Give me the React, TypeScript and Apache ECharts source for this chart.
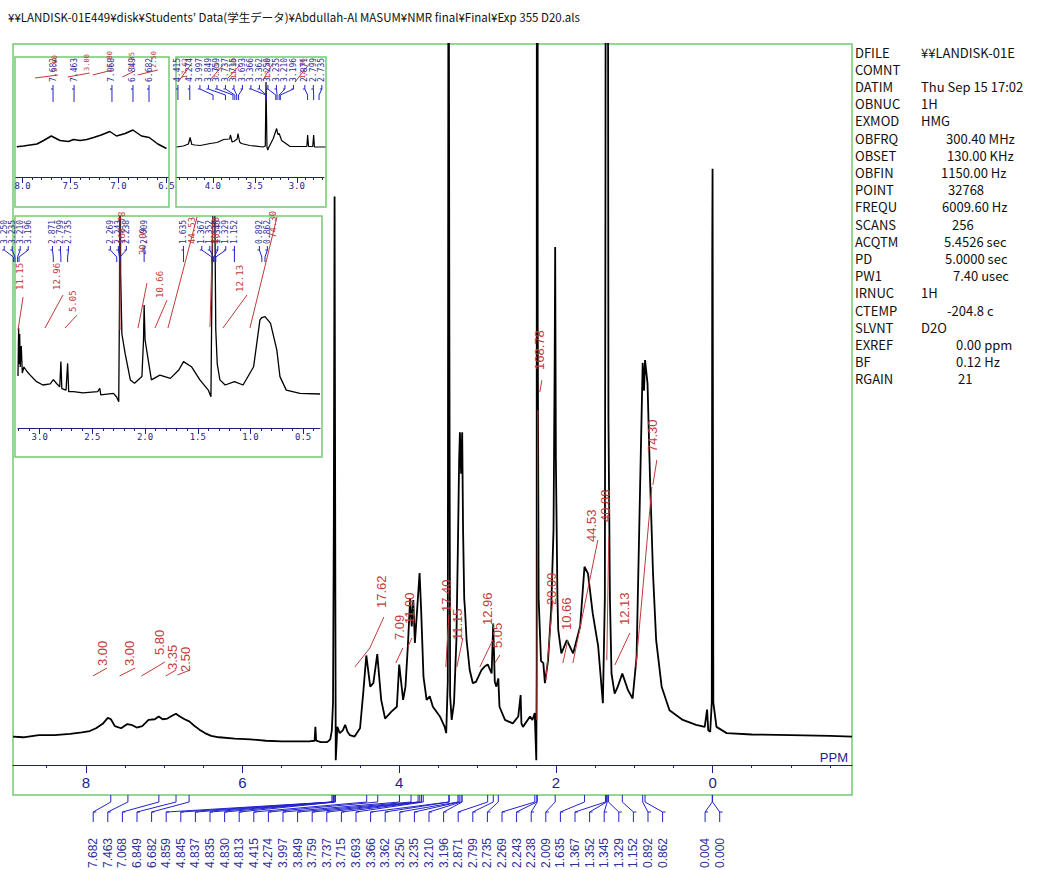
import React, { useEffect, useRef } from "react";
import * as echarts from "echarts";

const TITLE_TEXT = "¥¥LANDISK-01E449¥disk¥Students’ Data(学生データ)¥Abdullah-Al MASUM¥NMR final¥Final¥Exp 355 D20.als";

const paramKeys = ["DFILE", "COMNT", "DATIM", "OBNUC", "EXMOD", "OBFRQ", "OBSET", "OBFIN", "POINT", "FREQU", "SCANS", "ACQTM", "PD", "PW1", "IRNUC", "CTEMP", "SLVNT", "EXREF", "BF", "RGAIN"];
const paramValues = ["¥¥LANDISK-01E", "", "Thu Sep 15 17:02", "1H", "HMG", "300.40 MHz", "130.00 KHz", "1150.00 Hz", "32768", "6009.60 Hz", "256", "5.4526 sec", "5.0000 sec", "7.40 usec", "1H", "-204.8 c", "D2O", "0.00 ppm", "0.12 Hz", "21"];
const paramValueX = [921, 921, 921, 921, 921, 946, 947, 941, 948, 942, 952, 944, 945, 953, 921, 947, 921, 956, 956, 958];

// main spectrum: [ppm, intensity]
const mainSpectrum: number[][] = [
  [8.93, 0.1], [8.8, 0.0], [8.6, 0.3], [8.4, 0.3], [8.2, 0.5], [8.05, 0.7], [7.95, 0.9], [7.87, 1.3], [7.78, 2.0], [7.72, 2.8], [7.68, 2.6], [7.63, 1.6], [7.55, 1.3], [7.47, 1.9], [7.42, 1.8], [7.35, 1.4], [7.28, 1.6], [7.2, 2.5], [7.12, 2.6], [7.07, 3.0], [7.02, 2.6], [6.96, 2.7], [6.9, 3.1], [6.85, 3.4], [6.8, 3.0], [6.74, 2.6], [6.68, 2.3], [6.62, 1.7], [6.55, 1.1], [6.48, 0.6], [6.4, 0.2], [6.3, 0.0], [6.1, -0.2], [5.9, -0.3], [5.7, -0.5], [5.5, -0.6], [5.3, -0.6], [5.15, -0.6], [5.08, -0.5], [5.07, 1.5], [5.06, -0.5], [5.0, -0.7], [4.92, -0.7], [4.88, -0.3], [4.86, 1.0], [4.845, 5.0], [4.835, 30], [4.825, 78], [4.815, 20], [4.81, -3.3], [4.8, -1.0], [4.79, 1.5], [4.76, 0.6], [4.72, 1.0], [4.69, 1.8], [4.66, 0.8], [4.63, 0.3], [4.57, 0.1], [4.5, 1.3], [4.46, 6.3], [4.42, 11.8], [4.37, 7.3], [4.33, 7.8], [4.28, 12.0], [4.25, 8.0], [4.23, 5.4], [4.18, 2.7], [4.1, 3.7], [4.03, 4.4], [4.0, 10.5], [3.95, 5.4], [3.92, 7.3], [3.89, 13.1], [3.86, 20.0], [3.84, 16.0], [3.82, 19.8], [3.8, 13.6], [3.77, 18.6], [3.74, 23.7], [3.72, 18.4], [3.69, 8.7], [3.65, 5.4], [3.61, 5.9], [3.57, 4.4], [3.48, 3.0], [3.42, 1.5], [3.4, 0.6], [3.38, 8], [3.37, 140], [3.36, 60], [3.35, 6], [3.33, 2.5], [3.3, 5], [3.27, 14], [3.25, 28], [3.235, 40], [3.225, 44], [3.21, 38], [3.196, 44], [3.185, 30], [3.17, 20], [3.16, 18.4], [3.14, 14], [3.1, 9.7], [3.06, 7.8], [3.02, 8.0], [2.95, 9.7], [2.91, 10.2], [2.87, 10.5], [2.82, 9.2], [2.8, 16.4], [2.78, 8.0], [2.76, 7.3], [2.735, 8.5], [2.72, 4.4], [2.65, 2.5], [2.55, 2.0], [2.48, 3.0], [2.45, 6.1], [2.44, 2.0], [2.42, 1.5], [2.33, 3.0], [2.3, 2.5], [2.27, 3.5], [2.25, -3.3], [2.245, 10], [2.238, 400], [2.232, 60], [2.22, 20], [2.19, 11], [2.16, 10.7], [2.14, 7.8], [2.1, 11.1], [2.06, 18.4], [2.03, 30], [2.015, 55], [2.009, 70.7], [2.0, 40], [1.98, 20], [1.97, 15.5], [1.93, 12.1], [1.86, 14], [1.78, 12.1], [1.69, 16], [1.635, 24.6], [1.59, 23.6], [1.53, 17.9], [1.46, 13.1], [1.4, 4.9], [1.375, 20], [1.367, 80], [1.352, 300], [1.345, 400], [1.338, 150], [1.329, 46], [1.31, 20], [1.29, 9.2], [1.25, 6.3], [1.21, 7.3], [1.152, 9.2], [1.08, 6.8], [1.02, 5.6], [0.97, 11.6], [0.93, 33.3], [0.892, 54], [0.875, 50], [0.862, 54.4], [0.83, 51], [0.8, 38], [0.76, 23.6], [0.72, 14], [0.65, 7.3], [0.55, 3.9], [0.38, 2.5], [0.21, 1.8], [0.1, 1.5], [0.07, 4.0], [0.055, 1.0], [0.03, 0.8], [0.01, 5], [0.004, 70], [0.0, 82], [-0.01, 5], [-0.05, 1.5], [-0.18, 0.6], [-0.5, 0.4], [-1.0, 0.3], [-1.5, 0.2], [-1.78, 0.1],
];

const mainPeaks = [7.682, 7.463, 7.068, 6.849, 6.682, 4.859, 4.845, 4.837, 4.835, 4.830, 4.813, 4.415, 4.274, 3.997, 3.849, 3.759, 3.737, 3.715, 3.693, 3.366, 3.362, 3.250, 3.235, 3.210, 3.196, 2.871, 2.799, 2.735, 2.269, 2.243, 2.238, 2.009, 1.635, 1.367, 1.352, 1.345, 1.329, 1.152, 0.892, 0.862, 0.004, 0.000];
// number of consecutive peaks whose labels form one evenly spaced block
const mainPeakLabelBlocks = [40, 2];

const mainIntegralLines: number[][][] = [
  [[7.91, 8.84], [7.73, 9.99]],
  [[7.57, 8.84], [7.37, 9.99]],
  [[7.29, 8.84], [6.99, 10.86]],
  [[6.98, 8.84], [6.85, 9.7]],
  [[6.83, 8.98], [6.67, 9.7]],
  [[4.566, 10.13], [4.375, 12.88], [4.196, 17.35]],
  [[4.043, 10.71], [3.954, 12.88]],
  [[3.89, 13.02], [3.839, 14.32]],
  [[3.405, 10.13], [3.366, 17.6]],
  [[3.264, 10.13], [3.188, 14.32]],
  [[2.971, 10.13], [2.805, 14.03]],
  [[2.779, 10.71], [2.715, 11.87]],
  [[2.243, 2.5], [2.23, 47.2]],
  [[2.205, 49.8], [2.179, 51.5]],
  [[2.128, 8.26], [2.039, 19.8]],
  [[1.911, 10.71], [1.847, 14.03]],
  [[1.783, 10.71], [1.464, 28.45]],
  [[1.35, 11.14], [1.325, 28.89]],
  [[1.247, 10.42], [1.056, 15.04]],
  [[0.979, 10.13], [0.775, 36.1]],
  [[0.762, 36.4], [0.711, 40.0]],
];
const mainIntegralLabels = ["3.00", "3.00", "5.80", "3.35", "2.50", "17.62", "7.09", "11.90", "17.40", "11.15", "12.96", "5.05", "168.78", "20.09", "10.66", "44.53", "40.88", "12.13", "74.30"];
const mainIntegralLabelAt: number[][] = [[7.783, 10.28], [7.438, 10.28], [7.055, 11.87], [6.889, 9.7], [6.724, 9.41], [4.222, 18.65], [3.992, 14.03], [3.864, 16.34], [3.392, 18.07], [3.252, 14.03], [2.869, 16.19], [2.741, 12.88], [2.205, 52.97], [2.052, 19.08], [1.86, 15.47], [1.541, 28.16], [1.362, 31.05], [1.12, 16.19], [0.762, 41.15]];

const mainMinorTicks = [-1.5, -1, -0.5, 0, 0.5, 1, 1.5, 2, 2.5, 3, 3.5, 4, 4.5, 5, 5.5, 6, 6.5, 7, 7.5, 8, 8.5];
const mainMajorTicks = [8, 6, 4, 2, 0];

// inset 1 (8.0 - 6.5 ppm)
const inset1Spectrum: number[][] = [[8.06, 0.06], [7.99, 0.2], [7.92, 0.4], [7.85, 0.6], [7.78, 1.3], [7.7, 2.2], [7.66, 1.8], [7.61, 1.3], [7.52, 1.1], [7.47, 1.5], [7.4, 1.3], [7.33, 1.5], [7.26, 1.9], [7.18, 2.4], [7.09, 3.1], [7.02, 2.2], [6.93, 2.7], [6.85, 3.4], [6.76, 2.2], [6.68, 1.9], [6.59, 0.6], [6.5, -0.3]];
const inset1Peaks = [7.682, 7.463, 7.068, 6.849, 6.682];
const inset1IntegralLines: number[][][] = [[[7.87, 13.8], [7.63, 14.4]], [[7.53, 14.0], [7.3, 14.8]], [[7.27, 14.4], [7.06, 15.4]], [[6.96, 14.0], [6.83, 15.2]], [[6.8, 14.4], [6.59, 15.4]]];
const inset1IntegralLabels = ["3.00", "3.00", "5.80", "3.35", "2.50"];
const inset1IntegralLabelAt: number[][] = [[7.66, 15.0], [7.33, 15.2], [7.09, 15.8], [6.86, 15.6], [6.63, 15.8]];
const inset1MinorTicks = [6.5, 6.6, 6.7, 6.8, 6.9, 7.0, 7.1, 7.2, 7.3, 7.4, 7.5, 7.6, 7.7, 7.8, 7.9, 8.0];
const inset1MajorTicks = [8.0, 7.5, 7.0, 6.5];

// inset 2 (4.4 - 2.7 ppm)
const inset2Spectrum: number[][] = [[4.43, 0], [4.35, 0.2], [4.29, 0.6], [4.27, 1.9], [4.25, 0.5], [4.21, 0.4], [4.15, 0.3], [4.03, 0.7], [3.95, 0.9], [3.87, 1.5], [3.8, 1.6], [3.79, 2.4], [3.77, 1.0], [3.75, 1.1], [3.71, 1.6], [3.7, 2.7], [3.68, 1.0], [3.66, 0.7], [3.56, 0.3], [3.4, 0], [3.375, 0.2], [3.366, 13], [3.355, 0.0], [3.345, -0.6], [3.34, -0.3], [3.28, 1.7], [3.24, 3.7], [3.225, 2.5], [3.21, 2.7], [3.18, 1.3], [3.08, 0.1], [2.88, 0.1], [2.871, 2.4], [2.86, 0.1], [2.81, 0.1], [2.799, 2.4], [2.79, 0.0], [2.66, 0]];
const inset2Peaks = [4.415, 4.274, 3.997, 3.849, 3.759, 3.737, 3.715, 3.693, 3.366, 3.362, 3.250, 3.235, 3.210, 3.196, 2.871, 2.799, 2.735];
const inset2IntegralLines: number[][][] = [[[4.414, 13], [4.247, 16.8]], [[4.033, 13.4], [3.878, 16.4]], [[3.818, 13.8], [3.676, 16.4]], [[3.402, 13.4], [3.283, 16.8]], [[3.021, 13], [2.842, 16.8]]];
const inset2IntegralLabels = ["17.62", "7.09", "11.90", "17.40", "12.96"];
const inset2IntegralLabelAt: number[][] = [[4.33, 13.6], [3.95, 13.6], [3.75, 13.6], [3.34, 13.6], [2.93, 13.6]];
const inset2MinorTicks = [2.7, 2.8, 2.9, 3.0, 3.1, 3.2, 3.3, 3.4, 3.5, 3.6, 3.7, 3.8, 3.9, 4.0, 4.1, 4.2, 4.3, 4.4];
const inset2MajorTicks = [4.0, 3.5, 3.0];

// inset 3 (3.2 - 0.35 ppm)
const inset3Spectrum: number[][] = [[3.206, 6], [3.2, 22], [3.196, 10], [3.19, 20], [3.185, 9], [3.175, 16], [3.165, 7], [3.15, 9], [3.12, 7.5], [3.09, 6.3], [3.03, 4.1], [2.97, 3.0], [2.9, 3.4], [2.87, 4.8], [2.84, 3.5], [2.81, 2.4], [2.799, 10.8], [2.79, 1.8], [2.75, 1.3], [2.735, 10.2], [2.725, 0.8], [2.68, 0.8], [2.59, 0.4], [2.45, 0.8], [2.43, 1.9], [2.42, -0.3], [2.3, 0.2], [2.27, -1.0], [2.25, -2.6], [2.243, 30], [2.238, 100], [2.232, 40], [2.22, 20], [2.19, 13.6], [2.14, 4.7], [2.1, 3.6], [2.03, 5.8], [2.015, 18], [2.009, 29.7], [2.0, 18], [1.97, 11.3], [1.94, 4.7], [1.86, 6.3], [1.76, 5.2], [1.68, 8], [1.635, 10.8], [1.56, 9.1], [1.48, 4.7], [1.4, 1.3], [1.375, -0.9], [1.367, 30], [1.352, 80], [1.345, 100], [1.338, 60], [1.329, 21.3], [1.315, 10], [1.29, 4.7], [1.24, 3.0], [1.152, 4.1], [1.07, 3.0], [0.97, 9.1], [0.91, 24.7], [0.892, 25.5], [0.862, 25.8], [0.81, 23.6], [0.75, 14.7], [0.72, 5.8], [0.66, 1.3], [0.53, 0.2], [0.34, 0]];
const inset3Peaks = [3.250, 3.235, 3.210, 3.196, 2.871, 2.799, 2.735, 2.269, 2.243, 2.238, 2.009, 1.635, 1.367, 1.352, 1.345, 1.329, 1.152, 0.892, 0.862];
const inset3IntegralLines: number[][][] = [[[3.206, 21.3], [3.158, 32.3]], [[2.95, 22], [2.779, 33]], [[2.76, 22], [2.646, 26.3]], [[2.238, 21.3], [2.238, 59]], [[2.067, 22], [1.982, 37]], [[1.906, 22], [1.792, 31.3]], [[1.783, 22], [1.507, 59]], [[1.384, 22.3], [1.356, 59]], [[1.261, 22], [1.033, 33]], [[1.005, 22], [0.748, 59]]];
const inset3IntegralLabels = ["11.15", "12.96", "5.05", "168.78", "20.09", "10.66", "44.53", "40.88", "12.13", "74.30"];
const inset3IntegralLabelAt: number[][] = [[3.187, 34.7], [2.836, 34.7], [2.684, 27.3], [2.215, 50], [2.02, 46.3], [1.858, 32], [1.55, 50], [1.33, 50], [1.1, 34], [0.786, 52]];
const inset3MinorTicks = [0.4, 0.5, 0.6, 0.7, 0.8, 0.9, 1.0, 1.1, 1.2, 1.3, 1.4, 1.5, 1.6, 1.7, 1.8, 1.9, 2.0, 2.1, 2.2, 2.3, 2.4, 2.5, 2.6, 2.7, 2.8, 2.9, 3.0, 3.1, 3.2];
const inset3MajorTicks = [3.0, 2.5, 2.0, 1.5, 1.0, 0.5];

const NAVY = "#1e1e8a";
const LEADER = "#2222cc";
const PEAKTEXT = "#30309a";
const RED = "#c23a3a";
const GREEN = "#70cc70";

// overlapping labels are merged into blocks centred on their peaks
function layoutSlots(px: number[], gap: number): number[] {
  const order = px.map((_, i) => i).sort((i, j) => px[i] - px[j]);
  const xs = order.map((i) => px[i]);
  let cs = xs.map((x, i) => ({ a: i, b: i, lo: x, hi: x }));
  const first = (c: any) => (c.lo + c.hi) / 2 - ((c.b - c.a) * gap) / 2;
  let merged = true;
  while (merged) {
    merged = false;
    for (let k = 0; k + 1 < cs.length; k++) {
      const p = cs[k], q = cs[k + 1];
      if (first(q) - (first(p) + (p.b - p.a) * gap) < gap) {
        cs.splice(k, 2, { a: p.a, b: q.b, lo: p.lo, hi: q.hi });
        merged = true;
        break;
      }
    }
  }
  const out: number[] = new Array(px.length);
  cs.forEach((c) => {
    const f = first(c);
    for (let i = c.a; i <= c.b; i++) out[order[i]] = f + (i - c.a) * gap;
  });
  return out;
}

// explicit blocks: each block of labels evenly spaced, centred on its peaks' span
function blockSlots(px: number[], blocks: number[], gap: number): number[] {
  const out: number[] = [];
  let k = 0;
  blocks.forEach((n) => {
    const seg = px.slice(k, k + n);
    const lo = Math.min(...seg), hi = Math.max(...seg);
    const f = (lo + hi) / 2 - ((n - 1) * gap) / 2;
    for (let i = 0; i < n; i++) out.push(f + i * gap);
    k += n;
  });
  return out;
}

function axisPair(gridIndex: number, min: number, max: number, minor: number[], major: number[], o: any) {
  return [
    {
      type: "value", gridIndex, min, max, inverse: true, position: "bottom",
      axisLine: { show: true, onZero: false, lineStyle: { color: NAVY, width: 1.2 } },
      axisTick: { show: true, customValues: minor, length: o.minorLen, lineStyle: { color: NAVY, width: 1 } },
      axisLabel: { show: false }, splitLine: { show: false },
    },
    {
      type: "value", gridIndex, min, max, inverse: true, position: "bottom",
      axisLine: { show: false, onZero: false },
      axisTick: { show: true, customValues: major, length: o.majorLen, lineStyle: { color: NAVY, width: 1 } },
      axisLabel: {
        show: true, customValues: major, color: NAVY, fontSize: o.fontSize, fontFamily: o.fontFamily, margin: o.margin,
        formatter: (v: number) => (o.decimals ? v.toFixed(o.decimals) : String(v)),
      },
      splitLine: { show: false },
    },
  ];
}

function lineSeries(data: number[][], xAxisIndex: number, yAxisIndex: number, width: number) {
  return {
    type: "line", data, xAxisIndex, yAxisIndex, showSymbol: false, symbol: "none", clip: true, z: 2,
    lineStyle: { color: "#000", width }, silent: true,
  };
}

function integralLineSeries(lines: number[][][], xAxisIndex: number, yAxisIndex: number, width: number) {
  return {
    type: "custom", xAxisIndex, yAxisIndex, silent: true, clip: false, z: 4,
    data: lines.map((l) => [l[0][0], l[0][1]]),
    renderItem: (params: any, api: any) => ({
      type: "polyline",
      shape: { points: lines[params.dataIndex].map((p) => api.coord(p)) },
      style: { stroke: RED, fill: "none", lineWidth: width },
    }),
  };
}

function integralLabelSeries(labels: string[], at: number[][], xAxisIndex: number, yAxisIndex: number, fontSize: number, fontFamily: string) {
  return {
    type: "custom", xAxisIndex, yAxisIndex, silent: true, clip: false, z: 5,
    data: at,
    renderItem: (params: any, api: any) => {
      const c = api.coord([api.value(0), api.value(1)]);
      return {
        type: "text", x: c[0], y: c[1], rotation: Math.PI / 2,
        style: { text: labels[params.dataIndex], fill: RED, fontSize, fontFamily, align: "left", verticalAlign: "middle" },
      };
    },
  };
}

function peakSeries(peaks: number[], slots: number[], xAxisIndex: number, yAxisIndex: number, g: any) {
  return {
    type: "custom", xAxisIndex, yAxisIndex, silent: true, clip: false, z: 6,
    data: peaks.map((p, i) => [p, slots[i]]),
    renderItem: (params: any, api: any) => {
      const i = params.dataIndex;
      const px = api.coord([api.value(0), 0])[0];
      const s = api.value(1);
      return {
        type: "group",
        children: [
          { type: "polyline", shape: { points: [[px, g.y0], [px, g.y1], [s, g.y2], [s, g.y3]] }, style: { stroke: LEADER, fill: "none", lineWidth: 1 } },
          { type: "line", shape: { x1: s, y1: g.y2, x2: s + g.hook, y2: g.y2 }, style: { stroke: LEADER, lineWidth: 1 } },
          {
            type: "text", x: s, y: g.ty, rotation: Math.PI / 2,
            style: { text: peaks[i].toFixed(3), fill: PEAKTEXT, fontSize: g.fontSize, fontFamily: g.fontFamily, align: "left", verticalAlign: "middle" },
          },
        ],
      };
    },
  };
}

const MONO = "DejaVu Sans Mono";
const SANS = "Liberation Sans";
const JP = "Noto Sans CJK JP";

function baseOption(): any {
  const graphic: any[] = [
    { type: "rect", shape: { x: 13, y: 44, width: 839, height: 751 }, style: { fill: "none", stroke: GREEN, lineWidth: 1.5 }, silent: true },
    { type: "rect", shape: { x: 15, y: 57, width: 154, height: 150 }, style: { fill: "none", stroke: GREEN, lineWidth: 1.5 }, silent: true },
    { type: "rect", shape: { x: 176, y: 57, width: 150, height: 150 }, style: { fill: "none", stroke: GREEN, lineWidth: 1.5 }, silent: true },
    { type: "rect", shape: { x: 15, y: 216, width: 307, height: 241 }, style: { fill: "none", stroke: GREEN, lineWidth: 1.5 }, silent: true },
    { type: "text", x: 8, y: 17, style: { text: TITLE_TEXT, fill: "#111", fontSize: 11.5, fontFamily: JP, align: "left", verticalAlign: "middle" }, silent: true },
    { type: "text", x: 848, y: 757, style: { text: "PPM", fill: NAVY, fontSize: 13, fontFamily: SANS, align: "right", verticalAlign: "middle" }, silent: true },
  ];
  paramKeys.forEach((k, i) => {
    const y = 52 + i * 17.2;
    graphic.push({ type: "text", x: 855, y, style: { text: k, fill: "#111", fontSize: 13, fontFamily: JP, align: "left", verticalAlign: "middle" }, silent: true });
    if (paramValues[i]) {
      graphic.push({ type: "text", x: paramValueX[i], y, style: { text: paramValues[i], fill: "#111", fontSize: 13, fontFamily: JP, align: "left", verticalAlign: "middle" }, silent: true });
    }
  });

  const xAxis = [
    ...axisPair(0, -1.78, 8.93, mainMinorTicks, mainMajorTicks, { minorLen: 3, majorLen: 8, fontSize: 15, fontFamily: SANS, margin: 10, decimals: 0 }),
    ...axisPair(1, 6.484, 8.068, inset1MinorTicks, inset1MajorTicks, { minorLen: 3, majorLen: 6, fontSize: 9, fontFamily: MONO, margin: 4, decimals: 1 }),
    ...axisPair(2, 2.676, 4.426, inset2MinorTicks, inset2MajorTicks, { minorLen: 3, majorLen: 6, fontSize: 9, fontFamily: MONO, margin: 4, decimals: 1 }),
    ...axisPair(3, 0.34, 3.206, inset3MinorTicks, inset3MajorTicks, { minorLen: 3, majorLen: 6, fontSize: 9, fontFamily: MONO, margin: 4, decimals: 1 }),
  ];
  const yAxis = [
    { type: "value", gridIndex: 0, min: -4, max: 100, show: false },
    { type: "value", gridIndex: 1, min: -6, max: 17, show: false },
    { type: "value", gridIndex: 2, min: -6, max: 17, show: false },
    { type: "value", gridIndex: 3, min: -11.333, max: 59, show: false },
  ];
  const series: any[] = [
    lineSeries(mainSpectrum, 0, 0, 1.8),
    integralLineSeries(mainIntegralLines, 0, 0, 1),
    integralLabelSeries(mainIntegralLabels, mainIntegralLabelAt, 0, 0, 13, SANS),
    lineSeries(inset1Spectrum, 2, 1, 1.5),
    integralLineSeries(inset1IntegralLines, 2, 1, 1),
    integralLabelSeries(inset1IntegralLabels, inset1IntegralLabelAt, 2, 1, 7, MONO),
    lineSeries(inset2Spectrum, 4, 2, 1.2),
    integralLineSeries(inset2IntegralLines, 4, 2, 1),
    integralLabelSeries(inset2IntegralLabels, inset2IntegralLabelAt, 4, 2, 7, MONO),
    lineSeries(inset3Spectrum, 6, 3, 1.3),
    integralLineSeries(inset3IntegralLines, 6, 3, 1),
    integralLabelSeries(inset3IntegralLabels, inset3IntegralLabelAt, 6, 3, 9, MONO),
  ];
  return {
    animation: false,
    backgroundColor: "#ffffff",
    grid: [
      { left: 13, right: 196, top: 44, bottom: 105 },
      { left: 16, right: 880, top: 62, bottom: 693 },
      { left: 177, right: 724, top: 62, bottom: 693 },
      { left: 18, right: 728, top: 217, bottom: 442 },
    ],
    xAxis, yAxis, series, graphic,
  };
}

export default function App() {
  const ref = useRef<HTMLDivElement>(null);
  useEffect(() => {
    document.body.style.margin = "0";
    const chart = echarts.init(ref.current!, undefined, { renderer: "svg" });
    const opt = baseOption();
    chart.setOption(opt);
    const toPx = (axis: number, vals: number[]) => vals.map((v) => chart.convertToPixel({ xAxisIndex: axis } as any, v) as unknown as number);
    const mainSlots = blockSlots(toPx(0, mainPeaks), mainPeakLabelBlocks, 14.6);
    const in1Slots = layoutSlots(toPx(2, inset1Peaks), 9);
    const in2Slots = layoutSlots(toPx(4, inset2Peaks), 8.5);
    const in3Slots = layoutSlots(toPx(6, inset3Peaks), 8);
    opt.series = [
      ...opt.series,
      peakSeries(mainPeaks, mainSlots, 0, 0, { y0: 795, y1: 802, y2: 812, y3: 822, hook: 3, ty: 868, fontSize: 12, fontFamily: SANS }),
      peakSeries(inset1Peaks, in1Slots, 2, 1, { y0: 102, y1: 96, y2: 89, y3: 85, hook: -2, ty: 82, fontSize: 8, fontFamily: MONO }),
      peakSeries(inset2Peaks, in2Slots, 4, 2, { y0: 100, y1: 95, y2: 89, y3: 85, hook: -2, ty: 82, fontSize: 8, fontFamily: MONO }),
      peakSeries(inset3Peaks, in3Slots, 6, 3, { y0: 262, y1: 257, y2: 250, y3: 246, hook: -2, ty: 244, fontSize: 8, fontFamily: MONO }),
    ];
    chart.setOption(opt, true);
    return () => chart.dispose();
  }, []);
  return <div ref={ref} style={{ position: "absolute", left: 0, top: 0, width: 1048, height: 870 }} />;
}
